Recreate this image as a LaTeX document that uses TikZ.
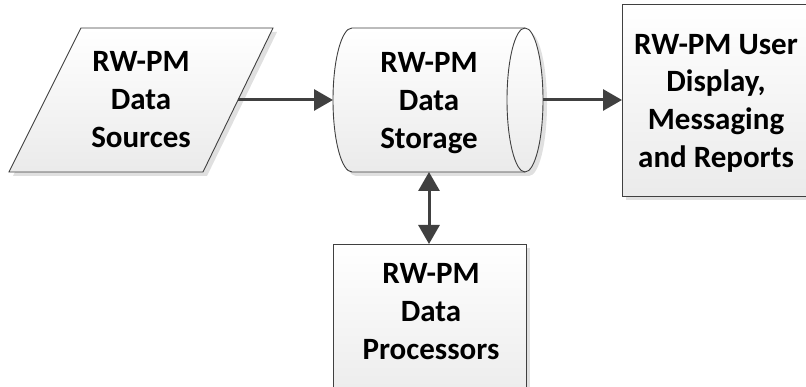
\documentclass[tikz,border=0pt]{standalone}
\usepackage{fontspec}
\setmainfont{Carlito}
\usetikzlibrary{arrows.meta}
\definecolor{edge}{HTML}{404040}
\definecolor{shade}{HTML}{E0E0E0}
\tikzset{
  x=1pt, y=1pt,
  shapefill/.style={draw=edge, line width=0.9pt, top color=white, bottom color=black!8},
  shadowfill/.style={fill=shade, draw=none},
  textlines/.style={align=center, font=\fontsize{31}{37.6}\selectfont\bfseries, inner sep=0pt},
  conn/.style={draw=edge, line width=3pt, -{Triangle[length=19pt,width=21pt]}},
  biconn/.style={draw=edge, line width=3pt, {Triangle[length=19pt,width=21pt]}-{Triangle[length=19pt,width=21pt]}},
}
% outlines of the shapes
\newcommand\srcpath{(81,359) -- (273,359) -- (203,215) -- (9,215) -- cycle}
\newcommand\storepath{(352,359) -- (525,359) arc[start angle=90, end angle=-90, x radius=18, y radius=72]
  -- (352,215) arc[start angle=-90, end angle=-270, x radius=19, y radius=72] -- cycle}
\newcommand\outpath{(622,383) rectangle (830,191)}
\newcommand\procpath{(333,143) rectangle (526,-20)}
\begin{document}
\begin{tikzpicture}
\useasboundingbox (0,0) rectangle (806,387);

% soft drop shadows
\begin{scope}[shift={(4,-4)}]
  \fill[shadowfill] \srcpath;
  \fill[shadowfill] \storepath;
  \fill[shadowfill] \outpath;
  \fill[shadowfill] \procpath;
\end{scope}

% shapes
\path[shapefill] \srcpath;
\path[shapefill] \storepath;
\draw[edge, line width=0.9pt] (525,359) arc[start angle=90, end angle=270, x radius=18, y radius=72];
\path[shapefill] \outpath;
\path[shapefill] \procpath;

% connection points on the shape borders
\coordinate (srcE)   at (238,287);
\coordinate (storeW) at (333,287);
\coordinate (storeE) at (543,287);
\coordinate (storeS) at (429,215);
\coordinate (outW)   at (622,287);
\coordinate (procN)  at (429,143);

% connectors
\draw[conn] (srcE) -- (storeW);
\draw[conn] (storeE) -- (outW);
\draw[biconn] (storeS) -- (procN);

% texts
\node[textlines] (src)   at (141,287.5) {RW-PM\\Data\\Sources};
\node[textlines] (store) at (429,284)   {RW-PM\\Data\\Storage};
\node[textlines] (out)   at (716,284)   {RW-PM User\\Display,\\Messaging\\and Reports};
\node[textlines] (proc)  at (431,75.5)  {RW-PM\\Data\\Processors};
\end{tikzpicture}
\end{document}
